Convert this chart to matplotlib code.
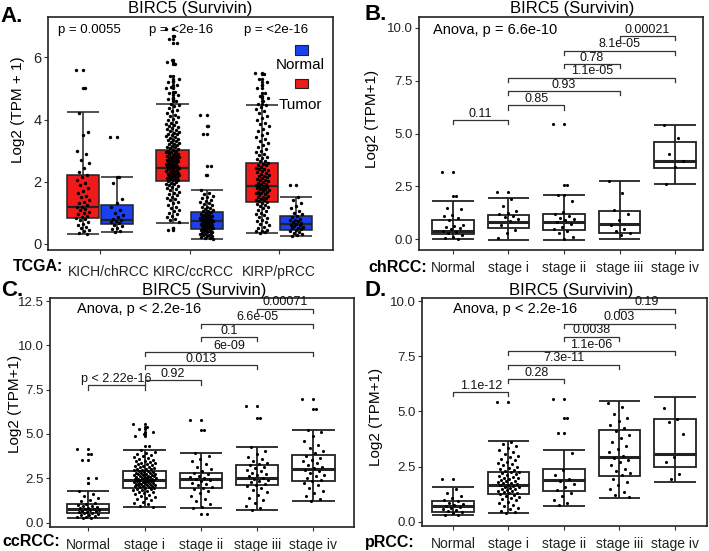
import matplotlib
matplotlib.use('Agg')
import matplotlib.pyplot as plt
from matplotlib.patches import Rectangle
import numpy as np

plt.rcParams['font.family'] = ['Liberation Sans', 'DejaVu Sans']

# ---------------- data ----------------
# panel A: TCGA tumour vs normal, box stats = (low whisker, q1, median, q3, high whisker)
a_groups = ['KICH/chRCC', 'KIRC/ccRCC', 'KIRP/pRCC']
a_pvals = ['p = 0.0055', 'p = <2e-16', 'p = <2e-16']
a_tumor_stats = [(0.30, 0.83, 1.19, 2.21, 4.23),
                 (0.68, 2.01, 2.43, 3.03, 4.51),
                 (0.35, 1.35, 1.85, 2.60, 4.47)]
a_normal_stats = [(0.39, 0.64, 0.76, 1.26, 2.14),
                  (0.17, 0.46, 0.73, 1.03, 1.73),
                  (0.25, 0.43, 0.65, 0.89, 1.51)]
a_tumor_pts = [
    [5.6, 5.0, 4.2, 3.6, 3.5, 3.0, 2.9, 2.7, 2.6, 2.45, 2.3, 2.2, 2.15, 2.05, 1.95, 1.9,
     1.8, 1.7, 1.62, 1.55, 1.5, 1.42, 1.35, 1.3, 1.25, 1.2, 1.17, 1.12, 1.08, 1.03, 0.98,
     0.95, 0.9, 0.86, 0.83, 0.8, 0.75, 0.7, 0.65, 0.6, 0.55, 0.5, 0.45, 0.4, 0.35, 0.3],
    [6.92, 6.7, 6.6, 6.45, 5.9, 5.85, 5.8, 5.4, 5.3, 5.25, 5.2, 5.1, 5.05, 5.0, 4.9, 4.85,
     4.8, 4.7, 4.65, 4.6, 4.5, 4.46, 4.42, 4.36, 4.3, 4.26, 4.22, 4.16, 4.1, 4.07, 4.03,
     3.97, 3.92, 3.89, 3.86, 3.83, 3.8, 3.76, 3.72, 3.69, 3.66, 3.63, 3.6, 3.57, 3.55,
     3.52, 3.5, 3.47, 3.44, 3.41, 3.38, 3.35, 3.33, 3.3, 3.28, 3.25, 3.22, 3.2, 3.17,
     3.15, 3.12, 3.1, 3.07, 3.05, 3.02, 3.0, 2.98, 2.96, 2.94, 2.92, 2.9, 2.88, 2.86,
     2.84, 2.82, 2.8, 2.79, 2.77, 2.75, 2.73, 2.72, 2.7, 2.68, 2.66, 2.65, 2.63, 2.61,
     2.6, 2.58, 2.56, 2.55, 2.53, 2.51, 2.5, 2.48, 2.46, 2.45, 2.43, 2.42, 2.4, 2.38,
     2.36, 2.35, 2.33, 2.31, 2.29, 2.28, 2.26, 2.25, 2.23, 2.21, 2.19, 2.17, 2.15, 2.14,
     2.12, 2.1, 2.08, 2.06, 2.04, 2.02, 2.0, 1.97, 1.94, 1.92, 1.89, 1.86, 1.83, 1.8,
     1.76, 1.72, 1.68, 1.65, 1.61, 1.57, 1.52, 1.48, 1.44, 1.4, 1.35, 1.3, 1.25, 1.2,
     1.15, 1.1, 1.05, 1.0, 0.95, 0.9, 0.85, 0.8, 0.75, 0.7, 0.5, 0.45],
    [5.5, 5.45, 5.3, 5.2, 5.1, 5.0, 4.85, 4.75, 4.7, 4.6, 4.5, 4.47, 4.4, 4.35, 4.27, 4.2,
     4.12, 4.05, 3.97, 3.9, 3.84, 3.78, 3.7, 3.62, 3.56, 3.5, 3.44, 3.38, 3.31, 3.25,
     3.18, 3.12, 3.06, 3.0, 2.95, 2.9, 2.85, 2.8, 2.76, 2.72, 2.68, 2.65, 2.61, 2.58,
     2.55, 2.52, 2.48, 2.45, 2.42, 2.4, 2.37, 2.34, 2.31, 2.28, 2.25, 2.22, 2.19, 2.17,
     2.14, 2.12, 2.09, 2.06, 2.04, 2.01, 1.98, 1.96, 1.94, 1.92, 1.89, 1.87, 1.85, 1.83,
     1.81, 1.79, 1.77, 1.75, 1.72, 1.7, 1.68, 1.66, 1.64, 1.62, 1.6, 1.57, 1.55, 1.52,
     1.5, 1.47, 1.45, 1.42, 1.4, 1.37, 1.34, 1.32, 1.29, 1.26, 1.22, 1.18, 1.14, 1.1,
     1.05, 1.0, 0.96, 0.92, 0.87, 0.82, 0.78, 0.74, 0.7, 0.65, 0.6, 0.55, 0.5, 0.45,
     0.42, 0.4, 0.38, 0.35]]
a_normal_pts = [
    [3.43, 2.15, 1.95, 1.45, 1.3, 1.2, 1.1, 1.0, 0.92, 0.85, 0.8, 0.77, 0.72, 0.7, 0.66,
     0.62, 0.58, 0.52, 0.47, 0.42, 0.39],
    [4.13, 3.8, 3.55, 2.5, 2.2, 1.73, 1.65, 1.6, 1.55, 1.5, 1.46, 1.42, 1.38, 1.35, 1.31,
     1.28, 1.24, 1.2, 1.17, 1.15, 1.12, 1.1, 1.07, 1.05, 1.02, 1.0, 0.97, 0.95, 0.93,
     0.91, 0.9, 0.88, 0.87, 0.85, 0.84, 0.82, 0.8, 0.78, 0.77, 0.76, 0.75, 0.73, 0.72,
     0.7, 0.69, 0.68, 0.66, 0.65, 0.63, 0.62, 0.6, 0.58, 0.57, 0.55, 0.53, 0.52, 0.5,
     0.48, 0.47, 0.45, 0.43, 0.42, 0.4, 0.38, 0.37, 0.35, 0.34, 0.32, 0.3, 0.28, 0.27,
     0.25, 0.24, 0.22, 0.2, 0.18, 0.17],
    [1.9, 1.5, 1.4, 1.3, 1.22, 1.15, 1.07, 1.0, 0.95, 0.9, 0.85, 0.8, 0.77, 0.75, 0.72,
     0.7, 0.68, 0.65, 0.62, 0.6, 0.57, 0.55, 0.52, 0.5, 0.47, 0.43, 0.4, 0.37, 0.35,
     0.3, 0.27, 0.25]]

stages = ['Normal', 'stage i', 'stage ii', 'stage iii', 'stage iv']
pairs = [(1, 2), (2, 3), (2, 4), (2, 5), (3, 4), (3, 5), (4, 5)]

# panel B: chRCC
b_stats = [(0.0, 0.24, 0.40, 0.92, 1.83),
           (-0.05, 0.55, 0.81, 1.14, 1.97),
           (-0.03, 0.44, 0.84, 1.21, 2.09),
           (0.03, 0.32, 0.71, 1.35, 2.77),
           (2.61, 3.35, 3.70, 4.58, 5.40)]
b_pts = [[3.2, 2.05, 1.5, 1.45, 1.15, 1.1, 1.0, 0.9, 0.7, 0.65, 0.6, 0.55, 0.5, 0.4, 0.35,
          0.3, 0.2, 0.1, 0.05, 0.0],
         [2.25, 1.9, 1.6, 1.35, 1.25, 1.2, 1.1, 1.05, 0.95, 0.85, 0.7, 0.45, 0.3, 0.05],
         [5.45, 2.57, 2.1, 1.8, 1.3, 1.2, 1.1, 1.0, 0.95, 0.9, 0.8, 0.75, 0.6, 0.5, 0.4,
          0.3, 0.1, 0.0],
         [2.75, 2.2, 1.4, 1.2, 0.9, 0.7, 0.5, 0.4, 0.3, 0.2],
         [5.4, 4.8, 4.05, 3.7, 3.4, 2.62]]
b_brackets = [5.64, 6.33, 7.0, 7.63, 8.28, 8.9, 9.6]
b_labels = ['0.11', '0.85', '0.93', '1.1e-05', '0.78', '8.1e-05', '0.00021']
b_anova = 'Anova, p = 6.6e-10'

# panel C: ccRCC
c_stats = [(0.24, 0.52, 0.78, 1.07, 1.80),
           (0.87, 1.96, 2.41, 2.90, 4.07),
           (0.83, 1.94, 2.45, 2.79, 3.94),
           (0.73, 2.11, 2.53, 3.24, 4.25),
           (1.20, 2.37, 3.05, 3.82, 5.25)]
c_pts = [[4.15, 3.85, 3.55, 2.5, 2.25, 1.8, 1.62, 1.5, 1.38, 1.27, 1.2, 1.12, 1.06, 1.0,
          0.96, 0.92, 0.88, 0.85, 0.82, 0.79, 0.76, 0.73, 0.7, 0.67, 0.64, 0.61, 0.58,
          0.55, 0.52, 0.48, 0.45, 0.42, 0.38, 0.34, 0.3, 0.26, 0.24],
         [5.55, 5.4, 5.3, 5.1, 5.0, 4.9, 4.3, 4.07, 4.0, 3.95, 3.88, 3.82, 3.76, 3.7, 3.65,
          3.6, 3.55, 3.5, 3.46, 3.42, 3.38, 3.35, 3.31, 3.28, 3.24, 3.2, 3.17, 3.14, 3.11,
          3.08, 3.05, 3.02, 3.0, 2.97, 2.95, 2.92, 2.9, 2.87, 2.85, 2.82, 2.8, 2.78, 2.76,
          2.74, 2.72, 2.7, 2.68, 2.66, 2.64, 2.62, 2.6, 2.58, 2.56, 2.55, 2.53, 2.51, 2.5,
          2.48, 2.46, 2.45, 2.43, 2.42, 2.4, 2.38, 2.37, 2.35, 2.33, 2.31, 2.3, 2.28, 2.26,
          2.24, 2.22, 2.2, 2.18, 2.16, 2.14, 2.12, 2.1, 2.08, 2.06, 2.04, 2.02, 2.0, 1.97,
          1.94, 1.91, 1.88, 1.85, 1.82, 1.78, 1.74, 1.7, 1.65, 1.6, 1.55, 1.5, 1.44, 1.38,
          1.32, 1.25, 1.18, 1.1, 1.02, 0.95, 0.87],
         [5.8, 5.2, 3.94, 3.75, 3.6, 3.45, 3.3, 3.15, 3.02, 2.9, 2.8, 2.72, 2.65, 2.58, 2.5,
          2.45, 2.4, 2.33, 2.25, 2.18, 2.1, 2.02, 1.95, 1.88, 1.78, 1.65, 1.5, 1.35, 1.2,
          1.05, 0.9, 0.83, 0.5],
         [6.6, 5.9, 4.25, 4.05, 3.85, 3.7, 3.58, 3.47, 3.38, 3.3, 3.22, 3.14, 3.06, 2.98,
          2.9, 2.82, 2.74, 2.66, 2.6, 2.54, 2.48, 2.42, 2.35, 2.28, 2.2, 2.13, 2.05, 1.95,
          1.83, 1.7, 1.55, 1.4, 1.25, 1.1, 0.95, 0.8, 0.73],
         [6.95, 6.4, 5.25, 5.1, 4.9, 4.6, 4.4, 4.2, 4.05, 3.9, 3.78, 3.66, 3.55, 3.45, 3.35,
          3.25, 3.15, 3.06, 2.98, 2.9, 2.8, 2.7, 2.6, 2.5, 2.42, 2.34, 2.22, 2.1, 1.95,
          1.8, 1.65, 1.5, 1.35, 1.2]]
c_brackets = [7.74, 8.02, 8.87, 9.62, 10.47, 11.22, 12.07]
c_labels = ['p < 2.22e-16', '0.92', '0.013', '6e-09', '0.1', '6.6e-05', '0.00071']
c_anova = 'Anova, p < 2.2e-16'

# panel D: pRCC
d_stats = [(0.29, 0.44, 0.72, 0.92, 1.57),
           (0.38, 1.25, 1.64, 2.23, 3.68),
           (0.69, 1.40, 1.87, 2.38, 3.26),
           (1.07, 2.05, 2.93, 4.16, 5.47),
           (1.80, 2.47, 3.08, 4.66, 5.64)]
d_pts = [[1.95, 1.5, 1.3, 1.15, 1.05, 0.98, 0.92, 0.86, 0.8, 0.75, 0.7, 0.66, 0.62, 0.57,
          0.52, 0.47, 0.42, 0.37, 0.32, 0.29],
         [5.45, 3.6, 3.5, 3.42, 3.34, 3.25, 3.15, 3.07, 3.0, 2.92, 2.85, 2.78, 2.72, 2.66,
          2.6, 2.55, 2.5, 2.45, 2.4, 2.35, 2.31, 2.27, 2.23, 2.19, 2.15, 2.11, 2.07, 2.03,
          2.0, 1.96, 1.93, 1.9, 1.86, 1.83, 1.8, 1.77, 1.74, 1.71, 1.68, 1.65, 1.62, 1.59,
          1.56, 1.53, 1.5, 1.47, 1.44, 1.41, 1.38, 1.35, 1.32, 1.29, 1.25, 1.21, 1.17,
          1.12, 1.07, 1.02, 0.96, 0.9, 0.84, 0.77, 0.7, 0.63, 0.56, 0.5, 0.45, 0.4],
         [5.55, 4.7, 4.0, 3.1, 2.35, 2.1, 1.95, 1.85, 1.7, 1.55, 1.45, 1.3, 1.15, 1.0, 0.85,
          0.75],
         [5.4, 5.2, 4.9, 4.7, 4.55, 4.4, 4.25, 4.1, 3.95, 3.8, 3.62, 3.45, 3.3, 3.15, 3.0,
          2.9, 2.8, 2.7, 2.55, 2.4, 2.3, 2.2, 2.1, 1.95, 1.8, 1.65, 1.5, 1.35, 1.2, 1.1],
         [5.17, 4.64, 4.5, 3.97, 2.91, 2.69, 2.17, 1.93]]
d_brackets = [5.87, 6.47, 7.13, 7.74, 8.39, 8.99, 9.67]
d_labels = ['1.1e-12', '0.28', '7.3e-11', '1.1e-06', '0.0038', '0.003', '0.19']
d_anova = 'Anova, p < 2.2e-16'

# ---------------- drawing ----------------
W, H = 709, 551
fig = plt.figure(figsize=(W / 100, H / 100), dpi=100)


def add_ax(l, t, r, b):
    return fig.add_axes([l / W, 1 - b / H, (r - l) / W, (b - t) / H])


def draw_box(ax, x, st, w, face, edge='#222222', lw=1.3, mlw=2.2):
    lo, q1, med, q3, hi = st
    ax.vlines(x, lo, hi, color=edge, lw=lw, zorder=2)
    ax.hlines([lo, hi], x - w / 2, x + w / 2, color=edge, lw=lw, zorder=2)
    ax.add_patch(Rectangle((x - w / 2, q1), w, q3 - q1, facecolor=face,
                           edgecolor=edge, lw=lw, zorder=3))
    ax.hlines(med, x - w / 2, x + w / 2, color=edge, lw=mlw, zorder=4)


def draw_points(ax, x, vals, st, jw, s=5):
    vals = np.asarray(vals, dtype=float)
    fl = vals[(vals < st[0]) | (vals > st[4])]
    # outliers from the box layer sit on the centre line
    ax.scatter(np.full(len(fl), x), fl, s=s, c='black', lw=0, zorder=5)
    offs = ((np.arange(len(vals)) * 0.6180339887) % 1.0 - 0.5) * 2 * jw
    ax.scatter(x + offs, vals, s=s, c='black', lw=0, zorder=5)


def bracket(ax, x1, x2, y, label, tip, fs=9):
    ax.plot([x1, x1, x2, x2], [y - tip, y, y, y - tip], color='#333333', lw=0.9,
            zorder=6)
    ax.annotate(label, ((x1 + x2) / 2, y), xytext=(0, 0.3), textcoords='offset points',
                ha='center', va='bottom', fontsize=fs, color='#111111')


def style_ax(ax, fs=9):
    for sp in ax.spines.values():
        sp.set_color('#222222')
        sp.set_linewidth(1.2)
    ax.tick_params(length=3, width=0.8, color='#333333', labelsize=fs,
                   labelcolor='#222222', pad=1.5)


# ---- A ----
axA = add_ax(48, 17, 333, 250)
xs = np.arange(1, len(a_groups) + 1)
for i, x in enumerate(xs):
    draw_box(axA, x - 0.19, a_tumor_stats[i], 0.36, '#f01a1a', lw=1.1, mlw=1.6)
    draw_box(axA, x + 0.19, a_normal_stats[i], 0.36, '#1a40f2', lw=1.1, mlw=1.6)
    draw_points(axA, x - 0.19, a_tumor_pts[i], a_tumor_stats[i], 0.075, s=6)
    draw_points(axA, x + 0.19, a_normal_pts[i], a_normal_stats[i], 0.075, s=6)
axA.set_xlim(0.42, 3.6)
axA.set_ylim(-0.2, 7.3)
axA.set_yticks([0, 2, 4, 6])
axA.set_xticks(xs)
axA.set_xticklabels([])
style_ax(axA, fs=10.5)
for x, t, dx in zip(xs, a_groups, [0.1, 0.04, -0.01]):
    axA.annotate(t, (x + dx, 0), xycoords=('data', 'axes fraction'), xytext=(0, -16),
                 textcoords='offset points', ha='center', va='center', fontsize=10,
                 color='#222222')
for x, t, dx in zip(xs, a_pvals, [-0.12, -0.09, -0.04]):
    axA.text(x + dx, 6.87, t, ha='center', va='center', fontsize=9.5)
# legend (labels sit under the keys)
axA.add_patch(Rectangle((0.867, 0.837), 0.045, 0.043, transform=axA.transAxes,
                        facecolor='#1a40f2', edgecolor='#222222', lw=0.8, zorder=7))
axA.add_patch(Rectangle((0.867, 0.695), 0.045, 0.039, transform=axA.transAxes,
                        facecolor='#f01a1a', edgecolor='#222222', lw=0.8, zorder=7))
axA.text(0.884, 0.794, 'Normal', transform=axA.transAxes, ha='center', va='center',
         fontsize=11, zorder=7)
axA.text(0.884, 0.622, 'Tumor', transform=axA.transAxes, ha='center', va='center',
         fontsize=11, zorder=7)


def stage_panel(box, stats, pts, brk, labs, anova, anova_xy, xlim, ylim, yticks):
    ax = add_ax(*box)
    for i in range(len(stages)):
        draw_box(ax, i + 1, stats[i], 0.75, 'none')
        draw_points(ax, i + 1, pts[i], stats[i], 0.2, s=5)
    ax.set_xlim(*xlim)
    ax.set_ylim(*ylim)
    tip = (ylim[1] - ylim[0]) * 0.018
    for (a, b), y, t in zip(pairs, brk, labs):
        bracket(ax, a, b, y, t, tip)
    ax.text(anova_xy[0], anova_xy[1], anova, ha='left', va='center', fontsize=10.5)
    ax.set_yticks(yticks)
    ax.set_yticklabels(['%.1f' % v for v in yticks])
    ax.set_xticks(range(1, len(stages) + 1))
    ax.set_xticklabels(stages)
    style_ax(ax, fs=9.5)
    ax.tick_params(axis='x', labelsize=10, pad=5)
    return ax


stage_panel((419, 17, 703, 250), b_stats, b_pts, b_brackets, b_labels, b_anova,
            (0.64, 9.9), (0.39, 5.5), (-0.5, 10.5), [0, 2.5, 5, 7.5, 10])
stage_panel((50, 298, 354, 527), c_stats, c_pts, c_brackets, c_labels, c_anova,
            (0.8, 12.07), (0.32, 5.72), (-0.25, 12.67), [0, 2.5, 5, 7.5, 10, 12.5])
stage_panel((422, 298, 707, 526), d_stats, d_pts, d_brackets, d_labels, d_anova,
            (1.0, 9.67), (0.44, 5.58), (-0.2, 10.15), [0, 2.5, 5, 7.5, 10])

# ---- figure text: titles, panel letters, y labels, row labels ----
def ftext(x, y, s, **kw):
    fig.text(x / W, 1 - y / H, s, **kw)


for x, y in [(190, 8), (572, 8), (204, 290), (571, 290)]:
    ftext(x, y, 'BIRC5 (Survivin)', ha='center', va='center', fontsize=12)
for x, y, s in [(0, 16, 'A.'), (364, 14, 'B.'), (1, 291, 'C.'), (364, 290, 'D.')]:
    ftext(x, y, s, ha='left', va='center', fontsize=16, fontweight='bold')
for x, y, s in [(18, 110, 'Log2 (TPM + 1)'), (372, 119, 'Log2 (TPM+1)'),
                (15, 404, 'Log2 (TPM+1)'), (376, 417, 'Log2 (TPM+1)')]:
    ftext(x, y, s, ha='center', va='center', rotation=90, fontsize=11)
for x, y, s in [(13, 266, 'TCGA:'), (368, 267, 'chRCC:'), (2, 542, 'ccRCC:'),
                (365, 543, 'pRCC:')]:
    ftext(x, y, s, ha='left', va='center', fontsize=11.5, fontweight='bold')

fig.savefig('out.png', dpi=100)
